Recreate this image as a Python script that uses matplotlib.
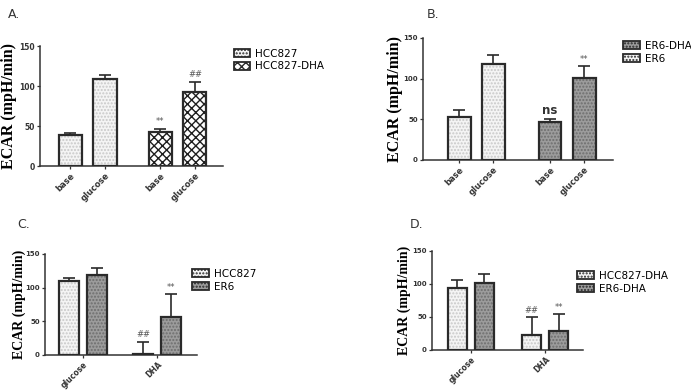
import matplotlib.pyplot as plt
import matplotlib.patches as mpatches

# Panel A: HCC827 vs HCC827-DHA
a_labels = ['base', 'glucose', 'base', 'glucose']
a_hcc = [39, 109]
a_hcc_err = [2, 5]
a_dha = [43, 93]
a_dha_err = [3, 12]
a_marks = ['**', '##']

# Panel B: ER6 vs ER6-DHA
b_labels = ['base', 'glucose', 'base', 'glucose']
b_er6 = [53, 118]
b_er6_err = [8, 11]
b_dha = [46, 101]
b_dha_err = [4, 14]
b_marks = ['ns', '**']

# Panel C: HCC827 vs ER6
c_groups = ['glucose', 'DHA']
c_hcc = [109, 1]
c_hcc_err = [5, 18]
c_er6 = [118, 56]
c_er6_err = [11, 35]
c_marks = ['##', '**']

# Panel D: HCC827-DHA vs ER6-DHA
d_groups = ['glucose', 'DHA']
d_hcc = [93, 22]
d_hcc_err = [12, 28]
d_er6 = [101, 29]
d_er6_err = [14, 26]
d_marks = ['##', '**']

EDGE = '#2a2a2a'
STYLES = {
    'light': dict(facecolor='#f4f4f4', hatchcol='#c8c8c8', hatch='.....'),
    'check': dict(facecolor='#ffffff', hatchcol='#1e1e1e', hatch='xxxx'),
    'dark': dict(facecolor='#9c9c9c', hatchcol='#6e6e6e', hatch='.....'),
}


def draw_bars(ax, x, h, err, style, width):
    s = STYLES[style]
    ax.bar(x, h, width, color=s['facecolor'], edgecolor=s['hatchcol'],
           hatch=s['hatch'], linewidth=0, zorder=2)
    ax.bar(x, h, width, fill=False, edgecolor=EDGE, linewidth=1.6, zorder=3)
    ax.errorbar(x, h, yerr=[[0] * len(h), err], fmt='none', ecolor=EDGE,
                elinewidth=1.2, capsize=4, capthick=1.2, zorder=1)


def legend_handles(names, styles):
    hs = []
    for n, st in zip(names, styles):
        s = STYLES[st]
        hs.append(mpatches.Patch(facecolor=s['facecolor'], edgecolor=EDGE,
                                 hatch=s['hatch'], linewidth=1.3, label=n))
    return hs


def style_axis(ax, ylab_size, ytick_size, xtick_size, ylab_x):
    for sp in ['top', 'right']:
        ax.spines[sp].set_visible(False)
    for sp in ['left', 'bottom']:
        ax.spines[sp].set_linewidth(1.1)
        ax.spines[sp].set_color('#333333')
    ax.set_ylim(0, 150)
    ax.set_yticks([0, 50, 100, 150])
    ax.tick_params(axis='both', length=2.5, width=0.9, color='#333333',
                   labelcolor='#333333', pad=1.2)
    ax.tick_params(axis='y', labelsize=ytick_size)
    ax.tick_params(axis='x', labelsize=xtick_size)
    for t in ax.get_yticklabels():
        t.set_fontweight('bold')
    ax.set_ylabel('ECAR (mpH/min)', fontsize=ylab_size, fontweight='bold',
                  family='Liberation Serif')
    ax.yaxis.set_label_coords(ylab_x, 0.5)


def add_legend(fig, names, styles, anchor):
    fig.legend(handles=legend_handles(names, styles), loc='upper left',
               bbox_to_anchor=anchor, frameon=False, fontsize=7.5,
               handlelength=1.6, handleheight=0.8, labelspacing=0.25,
               handletextpad=0.5, borderaxespad=0, borderpad=0)


fig = plt.figure(figsize=(6.91, 3.90), dpi=100)

# ---- A ----
ax = fig.add_axes([0.058, 0.574, 0.265, 0.308])
w = 0.67
xa = [0, 1, 2.6, 3.6]
draw_bars(ax, xa[:2], a_hcc, a_hcc_err, 'light', w)
draw_bars(ax, xa[2:], a_dha, a_dha_err, 'check', w)
for xi, v, e, m in zip(xa[2:], a_dha, a_dha_err, a_marks):
    ax.text(xi, v + e + 4, m, ha='center', va='bottom', fontsize=6, color='#555555')
ax.set_xlim(-0.88, 4.42)
ax.set_xticks(xa)
ax.set_xticklabels(a_labels, rotation=45, ha='right', rotation_mode='anchor',
                   fontweight='bold')
style_axis(ax, 11.5, 5.5, 6, -0.126)
add_legend(fig, ['HCC827', 'HCC827-DHA'], ['light', 'check'], (0.338, 0.875))
fig.text(0.012, 0.955, 'A.', fontsize=9, color='#333333')

# ---- B ----
ax = fig.add_axes([0.612, 0.590, 0.275, 0.313])
xb = [0, 1, 2.66, 3.66]
draw_bars(ax, xb[:2], b_er6, b_er6_err, 'light', w)
draw_bars(ax, xb[2:], b_dha, b_dha_err, 'dark', w)
ax.text(xb[2], b_dha[0] + b_dha_err[0] + 3, b_marks[0], ha='center',
        va='bottom', fontsize=8.5, fontweight='bold', color='#333333')
ax.text(xb[3], b_dha[1] + b_dha_err[1] + 3, b_marks[1], ha='center',
        va='bottom', fontsize=6, color='#555555')
ax.set_xlim(-1.06, 4.5)
ax.set_xticks(xb)
ax.set_xticklabels(b_labels, rotation=45, ha='right', rotation_mode='anchor',
                   fontweight='bold')
style_axis(ax, 11.5, 5, 6, -0.105)
add_legend(fig, ['ER6-DHA', 'ER6'], ['dark', 'light'], (0.902, 0.895))
fig.text(0.617, 0.955, 'B.', fontsize=9, color='#333333')

# ---- C ----
ax = fig.add_axes([0.065, 0.090, 0.220, 0.259])
wc = 0.66
gc = [0, 2.43]
xc1 = [g for g in gc]
xc2 = [g + 0.93 for g in gc]
draw_bars(ax, xc1, c_hcc, c_hcc_err, 'light', wc)
draw_bars(ax, xc2, c_er6, c_er6_err, 'dark', wc)
ax.text(xc1[1], c_hcc[1] + c_hcc_err[1] + 4, c_marks[0], ha='center',
        va='bottom', fontsize=6, color='#555555')
ax.text(xc2[1], c_er6[1] + c_er6_err[1] + 3, c_marks[1], ha='center',
        va='bottom', fontsize=6, color='#555555')
ax.set_xlim(-0.79, 4.2)
ax.set_xticks([g + 0.465 for g in gc])
ax.set_xticklabels(c_groups, rotation=45, ha='right', rotation_mode='anchor',
                   fontweight='bold')
style_axis(ax, 10, 5, 5.5, -0.125)
add_legend(fig, ['HCC827', 'ER6'], ['light', 'dark'], (0.278, 0.31))
fig.text(0.025, 0.415, 'C.', fontsize=9, color='#333333')

# ---- D ----
ax = fig.add_axes([0.625, 0.103, 0.2185, 0.254])
wd = 0.69
gd = [0, 2.7]
xd1 = [g for g in gd]
xd2 = [g + 0.98 for g in gd]
draw_bars(ax, xd1, d_hcc, d_hcc_err, 'light', wd)
draw_bars(ax, xd2, d_er6, d_er6_err, 'dark', wd)
ax.text(xd1[1], d_hcc[1] + d_hcc_err[1] + 3, d_marks[0], ha='center',
        va='bottom', fontsize=6, color='#555555')
ax.text(xd2[1], d_er6[1] + d_er6_err[1] + 3, d_marks[1], ha='center',
        va='bottom', fontsize=6, color='#555555')
ax.set_xlim(-0.93, 4.56)
ax.set_xticks([g + 0.49 for g in gd])
ax.set_xticklabels(d_groups, rotation=45, ha='right', rotation_mode='anchor',
                   fontweight='bold')
style_axis(ax, 10, 5, 5.5, -0.135)
add_legend(fig, ['HCC827-DHA', 'ER6-DHA'], ['light', 'dark'], (0.835, 0.305))
fig.text(0.593, 0.415, 'D.', fontsize=9, color='#333333')

fig.savefig('out.png', dpi=100)
